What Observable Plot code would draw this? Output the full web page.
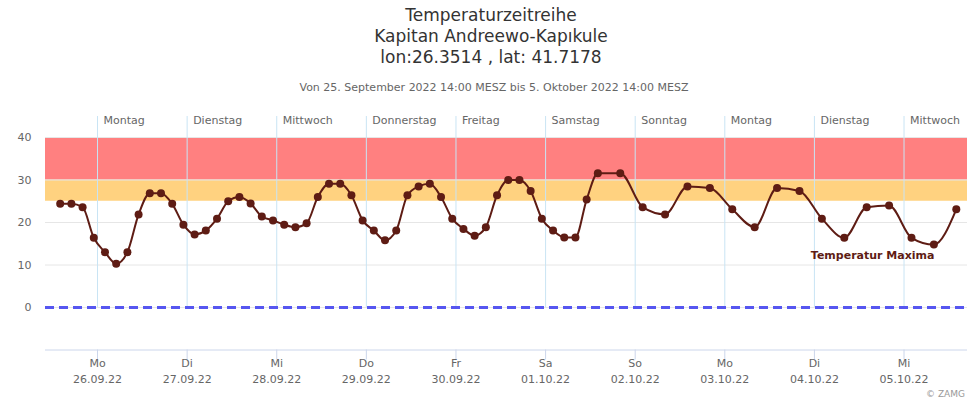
<!DOCTYPE html>
<html>
<head>
<meta charset="utf-8">
<script src="https://cdn.jsdelivr.net/npm/d3@7"></script>
<script src="https://cdn.jsdelivr.net/npm/@observablehq/plot@0.6"></script>
<style>
html, body { margin: 0; padding: 0; background: #fff; overflow: hidden; }
#wrap { position: relative; width: 967px; height: 401px; font-family: "DejaVu Sans", sans-serif; overflow: hidden; }
#head { position: relative; width: 967px; height: 100px; }
.t { position: absolute; left: 0; width: 982px; text-align: center; color: #333; font-size: 17px; line-height: 21px; white-space: nowrap; }
.s { position: absolute; left: 0; width: 988px; text-align: center; color: #666; font-size: 11px; line-height: 14px; white-space: nowrap; }
#credit { position: absolute; right: 2px; top: 389px; font-size: 9px; line-height: 11px; color: #999; white-space: nowrap; }
#chart { position: absolute; left: 0; top: 100px; }
</style>
</head>
<body>
<div id="wrap">
  <div id="head"></div>
  <div id="chart"></div>
  <div id="credit"></div>
</div>
<script>
// ---- text ----
const titleLines = ["Temperaturzeitreihe", "Kapitan Andreewo-Kapıkule", "lon:26.3514 , lat: 41.7178"];
const subtitle = "Von 25. September 2022 14:00 MESZ bis 5. Oktober 2022 14:00 MESZ";
const credit = "© ZAMG";
const seriesName = "Temperatur Maxima";

// ---- day ticks ----
const dayDates = ["2022-09-26", "2022-09-27", "2022-09-28", "2022-09-29", "2022-09-30",
                  "2022-10-01", "2022-10-02", "2022-10-03", "2022-10-04", "2022-10-05"];
const dayLong = ["Montag", "Dienstag", "Mittwoch", "Donnerstag", "Freitag",
                 "Samstag", "Sonntag", "Montag", "Dienstag", "Mittwoch"];
const dayShort = ["Mo", "Di", "Mi", "Do", "Fr", "Sa", "So", "Mo", "Di", "Mi"];
const dayLabel = ["26.09.22", "27.09.22", "28.09.22", "29.09.22", "30.09.22",
                  "01.10.22", "02.10.22", "03.10.22", "04.10.22", "05.10.22"];

// ---- y axis ----
const yTicks = [0, 10, 20, 30, 40];
const yDomain = [-10, 40];

// ---- bands ----
const bandFrom = [25, 30];
const bandTo = [30, 40];
const bandColor = ["#ffd280", "#ff8080"];

// ---- series ----
const times = [
  "2022-09-25T14:00", "2022-09-25T17:00", "2022-09-25T20:00", "2022-09-25T23:00",
  "2022-09-26T02:00", "2022-09-26T05:00", "2022-09-26T08:00", "2022-09-26T11:00",
  "2022-09-26T14:00", "2022-09-26T17:00", "2022-09-26T20:00", "2022-09-26T23:00",
  "2022-09-27T02:00", "2022-09-27T05:00", "2022-09-27T08:00", "2022-09-27T11:00",
  "2022-09-27T14:00", "2022-09-27T17:00", "2022-09-27T20:00", "2022-09-27T23:00",
  "2022-09-28T02:00", "2022-09-28T05:00", "2022-09-28T08:00", "2022-09-28T11:00",
  "2022-09-28T14:00", "2022-09-28T17:00", "2022-09-28T20:00", "2022-09-28T23:00",
  "2022-09-29T02:00", "2022-09-29T05:00", "2022-09-29T08:00", "2022-09-29T11:00",
  "2022-09-29T14:00", "2022-09-29T17:00", "2022-09-29T20:00", "2022-09-29T23:00",
  "2022-09-30T02:00", "2022-09-30T05:00", "2022-09-30T08:00", "2022-09-30T11:00",
  "2022-09-30T14:00", "2022-09-30T17:00", "2022-09-30T20:00", "2022-09-30T23:00",
  "2022-10-01T02:00", "2022-10-01T05:00", "2022-10-01T08:00", "2022-10-01T11:00",
  "2022-10-01T14:00", "2022-10-01T20:00",
  "2022-10-02T02:00", "2022-10-02T08:00", "2022-10-02T14:00", "2022-10-02T20:00",
  "2022-10-03T02:00", "2022-10-03T08:00", "2022-10-03T14:00", "2022-10-03T20:00",
  "2022-10-04T02:00", "2022-10-04T08:00", "2022-10-04T14:00", "2022-10-04T20:00",
  "2022-10-05T02:00", "2022-10-05T08:00", "2022-10-05T14:00"
];
const temps = [
  24.4, 24.4, 23.6, 16.4,
  13.0, 10.3, 13.0, 21.9,
  26.9, 26.9, 24.4, 19.5,
  17.2, 18.1, 20.9, 25.0,
  26.0, 24.5, 21.4, 20.5,
  19.5, 18.9, 19.8, 26.0,
  29.1, 29.1, 26.4, 20.5,
  18.1, 15.8, 18.1, 26.4,
  28.5, 29.1, 26.0, 20.9,
  18.5, 16.9, 18.9, 26.4,
  30.0, 30.0, 27.4, 20.9,
  18.1, 16.5, 16.5, 25.4,
  31.6, 31.6,
  23.6, 21.9, 28.5, 28.1,
  23.1, 18.9, 28.1, 27.4,
  20.9, 16.4, 23.6, 24.0,
  16.4, 14.8, 23.1
];
const xDomainStart = "2022-09-25T10:04";
const xDomainEnd = "2022-10-05T17:00";
const labelTime = "2022-10-04T15:36";
const labelValue = 12.2;

// ---- build ----
const utc = s => new Date(s.length === 10 ? s + "T00:00Z" : s + "Z");
const series = times.map((t, i) => ({date: utc(t), value: temps[i]}));
const days = dayDates.map((d, i) => ({date: utc(d), long: dayLong[i], bottom: dayShort[i] + "\n" + dayLabel[i]}));
const bands = bandFrom.map((f, i) => ({from: f, to: bandTo[i], color: bandColor[i]}));

const head = document.getElementById("head");
titleLines.forEach((txt, i) => {
  const d = document.createElement("div");
  d.className = "t";
  d.style.top = (4.5 + i * 21) + "px";
  d.textContent = txt;
  head.appendChild(d);
});
const sub = document.createElement("div");
sub.className = "s";
sub.style.top = "81px";
sub.textContent = subtitle;
head.appendChild(sub);
document.getElementById("credit").textContent = credit;

const lineColor = "#5e1c14";

const chart = Plot.plot({
  width: 967,
  height: 301,
  marginLeft: 45,
  marginRight: 0,
  marginTop: 37,
  marginBottom: 51.5,
  style: {fontFamily: "DejaVu Sans, sans-serif", fontSize: "11px", color: "#666", background: "transparent", overflow: "visible"},
  x: {type: "utc", domain: [utc(xDomainStart), utc(xDomainEnd)], axis: null},
  y: {domain: yDomain, axis: null},
  marks: [
    Plot.rect(bands, {y1: "from", y2: "to", fill: "color"}),
    Plot.ruleY(yTicks, {stroke: "#e6e6e6", strokeWidth: 1}),
    Plot.ruleX(days, {x: "date", y1: 40, y2: 0, insetTop: -21, stroke: "#c9e4f4", strokeWidth: 1}),
    Plot.ruleY([0], {stroke: "#5656f0", strokeWidth: 3, strokeDasharray: "9,5"}),
    Plot.ruleY([yDomain[0]], {stroke: "#ccd6eb", strokeWidth: 1}),
    Plot.ruleX(days, {x: "date", y1: yDomain[0], y2: yDomain[0], insetBottom: -10, stroke: "#ccd6eb", strokeWidth: 1}),
    Plot.text(days, {x: "date", text: "long", frameAnchor: "top", dy: -21, dx: 6, textAnchor: "start", fill: "#666", fontSize: 11}),
    Plot.text(days, {x: "date", text: "bottom", frameAnchor: "bottom", lineAnchor: "top", dy: 6, lineHeight: 16 / 11, fill: "#666", fontSize: 11}),
    Plot.text(yTicks, {y: d => d, text: d => String(d), frameAnchor: "left", dx: -14, textAnchor: "end", fill: "#666", fontSize: 11}),
    Plot.line(series, {x: "date", y: "value", curve: "monotone-x", stroke: lineColor, strokeWidth: 2}),
    Plot.dot(series, {x: "date", y: "value", r: 4, fill: lineColor, stroke: "none"}),
    Plot.text([seriesName], {x: () => utc(labelTime), y: () => labelValue, text: d => d, fill: lineColor, fontWeight: "bold", fontSize: 11})
  ]
});
document.getElementById("chart").appendChild(chart);
</script>
</body>
</html>
